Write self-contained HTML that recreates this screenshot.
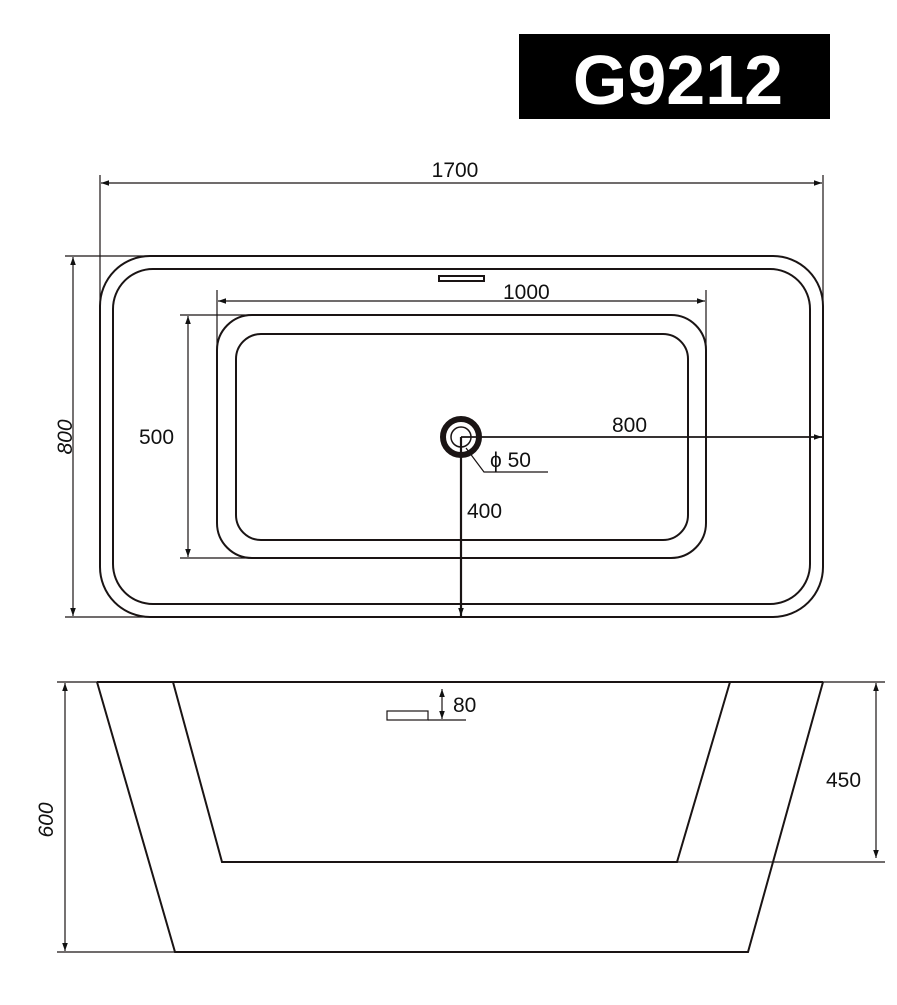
<!DOCTYPE html>
<html><head><style>body{margin:0;background:#fff}</style></head><body>
<svg width="897" height="1000" viewBox="0 0 897 1000" xmlns="http://www.w3.org/2000/svg" font-family="Liberation Sans, sans-serif">
<defs>
<marker id="a" viewBox="0 0 10 10" refX="10" refY="5" markerWidth="11" markerHeight="8" markerUnits="userSpaceOnUse" orient="auto-start-reverse"><path d="M0,1.5 L10,5 L0,8.5 z" fill="#111"/></marker>
</defs>
<rect x="519" y="34" width="311" height="85" fill="#000"/>
<text x="678" y="104" font-size="70" font-weight="bold" fill="#fff" text-anchor="middle">G9212</text>
<g stroke="#1a1414" fill="none">
<rect x="100" y="256" width="723" height="361" rx="50" stroke-width="2"/>
<rect x="113" y="269" width="697" height="335" rx="40" stroke-width="2"/>
<rect x="217" y="315" width="489" height="243" rx="35" stroke-width="2"/>
<rect x="236" y="334" width="452" height="206" rx="25" stroke-width="2"/>
<line x1="100" y1="175" x2="100" y2="300" stroke-width="1.2"/>
<line x1="823" y1="175" x2="823" y2="300" stroke-width="1.2"/>
<line x1="101" y1="183" x2="822" y2="183" stroke-width="1.2" marker-start="url(#a)" marker-end="url(#a)"/>
<line x1="65" y1="256" x2="150" y2="256" stroke-width="1.2"/>
<line x1="65" y1="617" x2="150" y2="617" stroke-width="1.2"/>
<line x1="73" y1="257" x2="73" y2="616" stroke-width="1.2" marker-start="url(#a)" marker-end="url(#a)"/>
<line x1="217" y1="290" x2="217" y2="360" stroke-width="1.2"/>
<line x1="706" y1="290" x2="706" y2="360" stroke-width="1.2"/>
<line x1="218" y1="301" x2="705" y2="301" stroke-width="1.2" marker-start="url(#a)" marker-end="url(#a)"/>
<line x1="180" y1="315" x2="260" y2="315" stroke-width="1.2"/>
<line x1="180" y1="558" x2="260" y2="558" stroke-width="1.2"/>
<line x1="188" y1="316" x2="188" y2="557" stroke-width="1.2" marker-start="url(#a)" marker-end="url(#a)"/>
<circle cx="461" cy="437" r="18" stroke-width="6"/>
<circle cx="461" cy="437" r="10" stroke-width="1.5"/>
<line x1="461" y1="437" x2="822" y2="437" stroke-width="1.8" marker-end="url(#a)"/>
<line x1="461" y1="437" x2="461" y2="616" stroke-width="2.2" marker-end="url(#a)"/>
<polyline points="466,448 484,472 548,472" stroke-width="1.2"/>
<rect x="439" y="276" width="45" height="5" stroke-width="2"/>
<line x1="97" y1="682" x2="823" y2="682" stroke-width="2"/>
<line x1="57" y1="682" x2="97" y2="682" stroke-width="1.2"/>
<line x1="823" y1="682" x2="885" y2="682" stroke-width="1.2"/>
<polyline points="97,682 175,952 748,952 823,682" stroke-width="2"/>
<polyline points="173,682 222,862 677,862 730,682" stroke-width="2"/>
<line x1="677" y1="862" x2="885" y2="862" stroke-width="1.2"/>
<line x1="57" y1="952" x2="175" y2="952" stroke-width="1.2"/>
<line x1="65" y1="683" x2="65" y2="951" stroke-width="1.2" marker-start="url(#a)" marker-end="url(#a)"/>
<line x1="876" y1="683" x2="876" y2="858" stroke-width="1.2" marker-start="url(#a)" marker-end="url(#a)"/>
<rect x="387" y="711" width="41" height="9" stroke-width="1.2"/>
<line x1="428" y1="720" x2="466" y2="720" stroke-width="1.2"/>
<line x1="442" y1="689" x2="442" y2="719" stroke-width="1.2" marker-start="url(#a)" marker-end="url(#a)"/>
</g>
<g fill="#111" font-size="21">
<text x="455" y="177" text-anchor="middle">1700</text>
<text x="503" y="299">1000</text>
<text x="139" y="444">500</text>
<text x="612" y="432">800</text>
<text x="467" y="518">400</text>
<text x="490" y="467">ϕ 50</text>
<text x="453" y="712">80</text>
<text x="826" y="787">450</text>
<text transform="translate(72,437) rotate(-90)" text-anchor="middle" font-style="italic">800</text>
<text transform="translate(53,820) rotate(-90)" text-anchor="middle" font-style="italic">600</text>
</g>
</svg>
</body></html>
